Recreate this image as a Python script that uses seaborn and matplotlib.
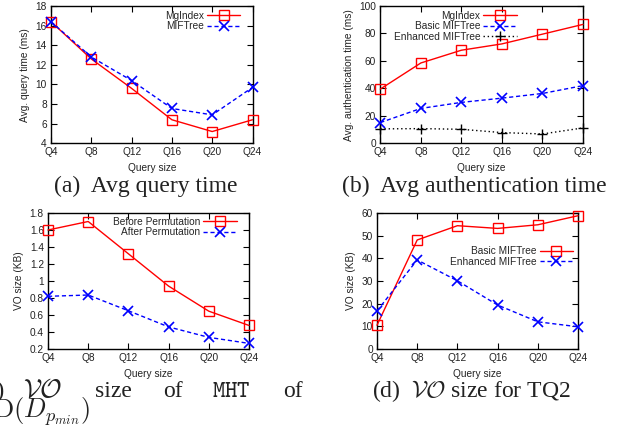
import matplotlib
matplotlib.use("Agg")
import matplotlib.pyplot as plt
import seaborn as sns
import pandas as pd

# ---- data ----
query_sizes = ["Q4", "Q8", "Q12", "Q16", "Q20", "Q24"]

# (a) average query time (ms)
qt_mgindex = [16.4, 12.6, 9.6, 6.4, 5.2, 6.4]
qt_miftree = [16.4, 12.8, 10.4, 7.55, 6.9, 9.7]

# (b) average authentication time (ms)
auth_mgindex = [39.5, 58.5, 67.8, 72.4, 79.5, 86.6]
auth_basic = [15.1, 25.4, 29.8, 32.9, 36.3, 42.0]
auth_enhanced = [10.5, 10.7, 10.2, 7.8, 6.8, 11.2]

# (c) VO size of MHT (KB)
vo_before = [1.60, 1.70, 1.32, 0.94, 0.645, 0.477]
vo_after = [0.82, 0.835, 0.65, 0.46, 0.337, 0.266]

# (d) VO size for TQ2 (KB)
tq2_basic = [10.5, 48.1, 54.4, 53.2, 54.8, 58.8]
tq2_enhanced = [16.8, 39.3, 30.1, 19.4, 12.0, 9.8]

FS = 7.3

sns.set_theme(style="ticks")
plt.rcParams.update({
    "font.family": ["Liberation Sans", "DejaVu Sans"],
    "font.size": FS,
    "axes.labelsize": FS,
    "xtick.labelsize": FS,
    "ytick.labelsize": FS,
    "legend.fontsize": FS,
    "axes.linewidth": 1.0,
    "axes.edgecolor": "black",
    "xtick.direction": "in",
    "ytick.direction": "in",
    "xtick.top": True,
    "ytick.right": True,
    "xtick.major.size": 4,
    "ytick.major.size": 4,
    "xtick.major.width": 0.8,
    "ytick.major.width": 0.8,
    "xtick.major.pad": 3,
    "ytick.major.pad": 3,
    "xtick.color": "black",
    "ytick.color": "black",
    "xtick.labelcolor": "#222222",
    "ytick.labelcolor": "#222222",
    "axes.labelcolor": "#222222",
    "mathtext.fontset": "cm",
})

RED = "#ff0000"
BLUE = "#0000ff"
BLACK = "#000000"

STYLES = {
    "red": dict(color=RED, marker="s", markersize=7.2, markerfacecolor="none",
                markeredgecolor=RED, markeredgewidth=1.0, linestyle="-", linewidth=1.0),
    "blue": dict(color=BLUE, marker="x", markersize=6.5, markeredgecolor=BLUE,
                 markeredgewidth=1.2, linestyle=(0, (3, 2)), linewidth=1.0),
    "black": dict(color=BLACK, marker="+", markersize=7.0, markeredgecolor=BLACK,
                  markeredgewidth=1.0, linestyle=(0, (1, 2)), linewidth=1.0),
}

fig = plt.figure(figsize=(6.28, 4.34), dpi=100)
W, H = 628.0, 434.0


def add_panel(left, top, right, bottom):
    return fig.add_axes([left / W, 1 - bottom / H, (right - left) / W, (bottom - top) / H])


def draw_series(ax, values, label, style):
    df = pd.DataFrame({"pos": range(len(query_sizes)), "val": values})
    sns.lineplot(data=df, x="pos", y="val", ax=ax, label=label, estimator=None,
                 clip_on=False, zorder=3, **STYLES[style])


def finish(ax, ylim, yticks, ylabel, yticklabels=None, legend_anchor=(0.94, 0.97)):
    ax.set_xlim(0, len(query_sizes) - 1)
    ax.set_xticks(range(len(query_sizes)))
    ax.set_xticklabels(query_sizes)
    ax.set_ylim(*ylim)
    ax.set_yticks(yticks)
    if yticklabels is not None:
        ax.set_yticklabels(yticklabels)
    ax.set_xlabel("Query size", labelpad=4)
    ax.set_ylabel(ylabel, labelpad=4)
    for s in ax.spines.values():
        s.set_visible(True)
    ax.legend(loc="upper right", bbox_to_anchor=legend_anchor, frameon=False,
              markerfirst=False, handlelength=3.3, handletextpad=0.3,
              labelspacing=0.05, borderpad=0, borderaxespad=0, fontsize=FS)


# (a)
ax_a = add_panel(51, 6, 252.5, 143.3)
draw_series(ax_a, qt_mgindex, "MgIndex", "red")
draw_series(ax_a, qt_miftree, "MIFTree", "blue")
finish(ax_a, (4, 18), range(4, 19, 2), "Avg. query time (ms)", legend_anchor=(0.94, 0.966))

# (b)
ax_b = add_panel(380.3, 6, 583, 143.3)
draw_series(ax_b, auth_mgindex, "MgIndex", "red")
draw_series(ax_b, auth_basic, "Basic MIFTree", "blue")
draw_series(ax_b, auth_enhanced, "Enhanced MIFTree", "black")
finish(ax_b, (0, 100), range(0, 101, 20), "Avg. authentication time (ms)",
       legend_anchor=(0.674, 0.966))

# (c)
ax_c = add_panel(48, 213, 249, 349)
draw_series(ax_c, vo_before, "Before Permutation", "red")
draw_series(ax_c, vo_after, "After Permutation", "blue")
c_ticks = [0.2, 0.4, 0.6, 0.8, 1.0, 1.2, 1.4, 1.6, 1.8]
finish(ax_c, (0.2, 1.8), c_ticks, "VO size (KB)",
       yticklabels=["%g" % t for t in c_ticks], legend_anchor=(0.94, 0.973))

# (d)
ax_d = add_panel(377, 213, 578, 349)
draw_series(ax_d, tq2_basic, "Basic MIFTree", "red")
draw_series(ax_d, tq2_enhanced, "Enhanced MIFTree", "blue")
finish(ax_d, (0, 60), range(0, 61, 10), "VO size (KB)", legend_anchor=(0.975, 0.755))

# ---- sub-figure captions ----
cap = dict(family=["Liberation Serif", "DejaVu Serif"], color="#222222")


def put(x, y, s, ha="center", size=17):
    fig.text(x / W, 1 - y / H, s, ha=ha, va="baseline", fontsize=size, **cap)


put(146, 192, "(a)  Avg query time")
put(474, 192, "(b)  Avg authentication time")
put(471.5, 397, r"(d)  $\mathcal{VO}$ size for TQ2")

# caption (c) is justified across the column and runs off the left edge
put(4, 397, "(c)", ha="right")
put(42.5, 397, r"$\mathcal{VO}$", size=19)
put(113.5, 397, "size")
put(173, 397, "of")
put(231.5, 397, r"$\mathtt{MHT}$")
put(293, 397, "of")
put(-7, 418, r"$\mathrm{D}(D_{p_{min}})$", ha="left", size=19)

fig.savefig("out.png", dpi=100)
